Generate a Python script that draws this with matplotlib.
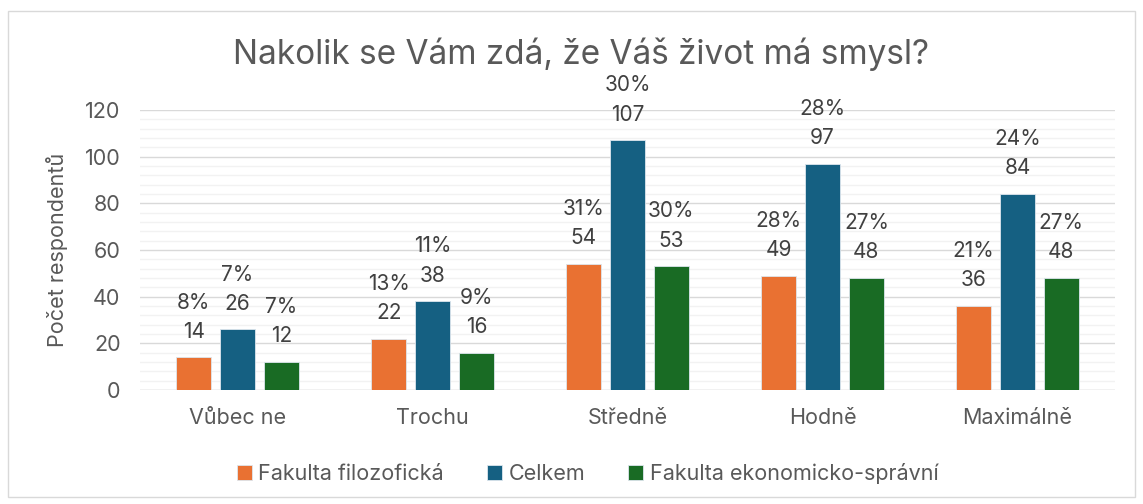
import matplotlib.pyplot as plt
from matplotlib.patches import Rectangle
from matplotlib.ticker import MultipleLocator
import numpy as np

plt.rcParams['font.family'] = ['Inter', 'DejaVu Sans']

categories = ['Vůbec ne', 'Trochu', 'Středně', 'Hodně', 'Maximálně']
series = ['Fakulta filozofická', 'Celkem', 'Fakulta ekonomicko-správní']
counts = [
    [14, 22, 54, 49, 36],
    [26, 38, 107, 97, 84],
    [12, 16, 53, 48, 48],
]
percents = [
    ['8%', '13%', '31%', '28%', '21%'],
    ['7%', '11%', '30%', '28%', '24%'],
    ['7%', '9%', '30%', '27%', '27%'],
]
colors = ['#E97132', '#156082', '#196B24']
text_col = '#595959'

fig = plt.figure(figsize=(11.43, 5.04), dpi=100)
fig.patches.append(Rectangle((8 / 1143, 7 / 504), 1127 / 1143, 486 / 504,
                             transform=fig.transFigure, fill=False,
                             edgecolor='#D9D9D9', linewidth=1))
ax = fig.add_axes([0.1225, 0.226, 0.853, 0.556])

x = np.arange(len(categories))
width = 0.18
offset = 0.225
for i, (vals, pcts, col) in enumerate(zip(counts, percents, colors)):
    xs = x + (i - 1) * offset
    ax.bar(xs, vals, width, color=col, edgecolor='#DDE6EE', linewidth=0.6,
           label=series[i], zorder=3)
    for xi, v, p in zip(xs, vals, pcts):
        ax.annotate(str(v), (xi, v), xytext=(0, 18.5), textcoords='offset points',
                    ha='center', va='center', fontsize=15, color='#404040')
        ax.annotate(p, (xi, v), xytext=(0, 39.5), textcoords='offset points',
                    ha='center', va='center', fontsize=15, color='#404040')

ax.set_xlim(-0.5, 4.5)
ax.set_ylim(0, 120)
ax.yaxis.set_major_locator(MultipleLocator(20))
ax.yaxis.set_minor_locator(MultipleLocator(4))
ax.grid(axis='y', which='major', color='#D9D9D9', linewidth=1, zorder=0)
ax.grid(axis='y', which='minor', color='#F2F2F2', linewidth=1, zorder=0)
for s in ['top', 'right', 'left', 'bottom']:
    ax.spines[s].set_visible(False)
ax.axhline(0, color='#D9D9D9', linewidth=1, zorder=1)
ax.tick_params(axis='both', which='both', length=0, labelsize=15.5, colors=text_col)
ax.tick_params(axis='x', pad=13)
ax.tick_params(axis='y', pad=14)
ax.set_xticks(x)
ax.set_xticklabels(categories)
ax.set_ylabel('Počet respondentů', fontsize=15.5, color=text_col, labelpad=12)

fig.text(0.508, 0.893, 'Nakolik se Vám zdá, že Váš život má smysl?', ha='center',
         va='center', fontsize=24, color=text_col)

leg = fig.legend(loc='center', bbox_to_anchor=(0.514, 0.06), ncol=3, frameon=False,
                 fontsize=15.5, handlelength=0.7, handleheight=0.7, handletextpad=0.3,
                 columnspacing=2.0)
for t in leg.get_texts():
    t.set_color(text_col)

fig.savefig('out.png', dpi=100)
